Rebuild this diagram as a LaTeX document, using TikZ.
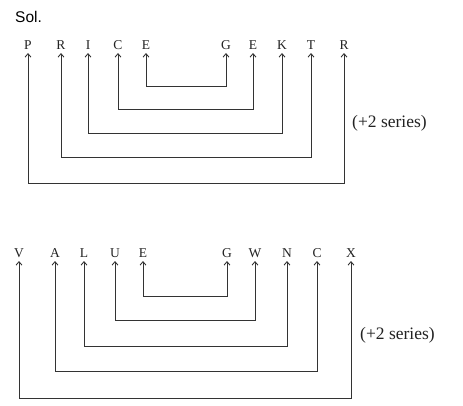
\documentclass[tikz,border=0pt]{standalone}
\usepackage{fontspec}
\setmainfont{Liberation Serif}
\newfontfamily\solfont{Liberation Sans}
\usetikzlibrary{arrows.meta}
\definecolor{ink}{HTML}{333333}
\definecolor{txt}{HTML}{222222}
\begin{document}
\begin{tikzpicture}[x=1pt,y=-1pt,
  letter/.style={inner sep=0pt, anchor=south, text height=9pt, text depth=0pt, font=\fontsize{13.5}{15}\selectfont, text=txt},
  conn/.style={draw=ink, line width=0.9pt, {Straight Barb[length=3.5pt,width=6pt]}-{Straight Barb[length=3.5pt,width=6pt]}, shorten <=3pt, shorten >=3pt},
  label/.style={font=\fontsize{17.5}{19}\selectfont, text=txt, inner sep=0pt}]
\useasboundingbox (0,0) rectangle (463,405);
\node[font=\solfont\fontsize{15.5}{17}\selectfont, anchor=west, inner sep=0pt] (sol) at (15,17) {Sol.};
% top diagram
\foreach \n/\x/\t in {a1/28/P, a2/61/R, a3/88/I, a4/118/C, a5/146/E, a6/226/G, a7/253/E, a8/282/K, a9/311/T, a10/344/R}
  \node[letter] (\n) at (\x,50) {\t};
\draw[conn] (a5.south) -- (a5.south |- 0,86) -- (a6.south |- 0,86) -- (a6.south);
\draw[conn] (a4.south) -- (a4.south |- 0,109) -- (a7.south |- 0,109) -- (a7.south);
\draw[conn] (a3.south) -- (a3.south |- 0,133) -- (a8.south |- 0,133) -- (a8.south);
\draw[conn] (a2.south) -- (a2.south |- 0,157) -- (a9.south |- 0,157) -- (a9.south);
\draw[conn] (a1.south) -- (a1.south |- 0,183) -- (a10.south |- 0,183) -- (a10.south);
\node[label, anchor=west] (s1) at (352,123) {(+2 series)};
% bottom diagram
\foreach \n/\x/\t in {b1/19/V, b2/55/A, b3/84/L, b4/115/U, b5/143/E, b6/227/G, b7/255/W, b8/287/N, b9/317/C, b10/351/X}
  \node[letter] (\n) at (\x,258) {\t};
\draw[conn] (b5.south) -- (b5.south |- 0,296) -- (b6.south |- 0,296) -- (b6.south);
\draw[conn] (b4.south) -- (b4.south |- 0,320) -- (b7.south |- 0,320) -- (b7.south);
\draw[conn] (b3.south) -- (b3.south |- 0,346) -- (b8.south |- 0,346) -- (b8.south);
\draw[conn] (b2.south) -- (b2.south |- 0,371) -- (b9.south |- 0,371) -- (b9.south);
\draw[conn] (b1.south) -- (b1.south |- 0,398) -- (b10.south |- 0,398) -- (b10.south);
\node[label, anchor=west] (s2) at (360,335) {(+2 series)};
\end{tikzpicture}
\end{document}
